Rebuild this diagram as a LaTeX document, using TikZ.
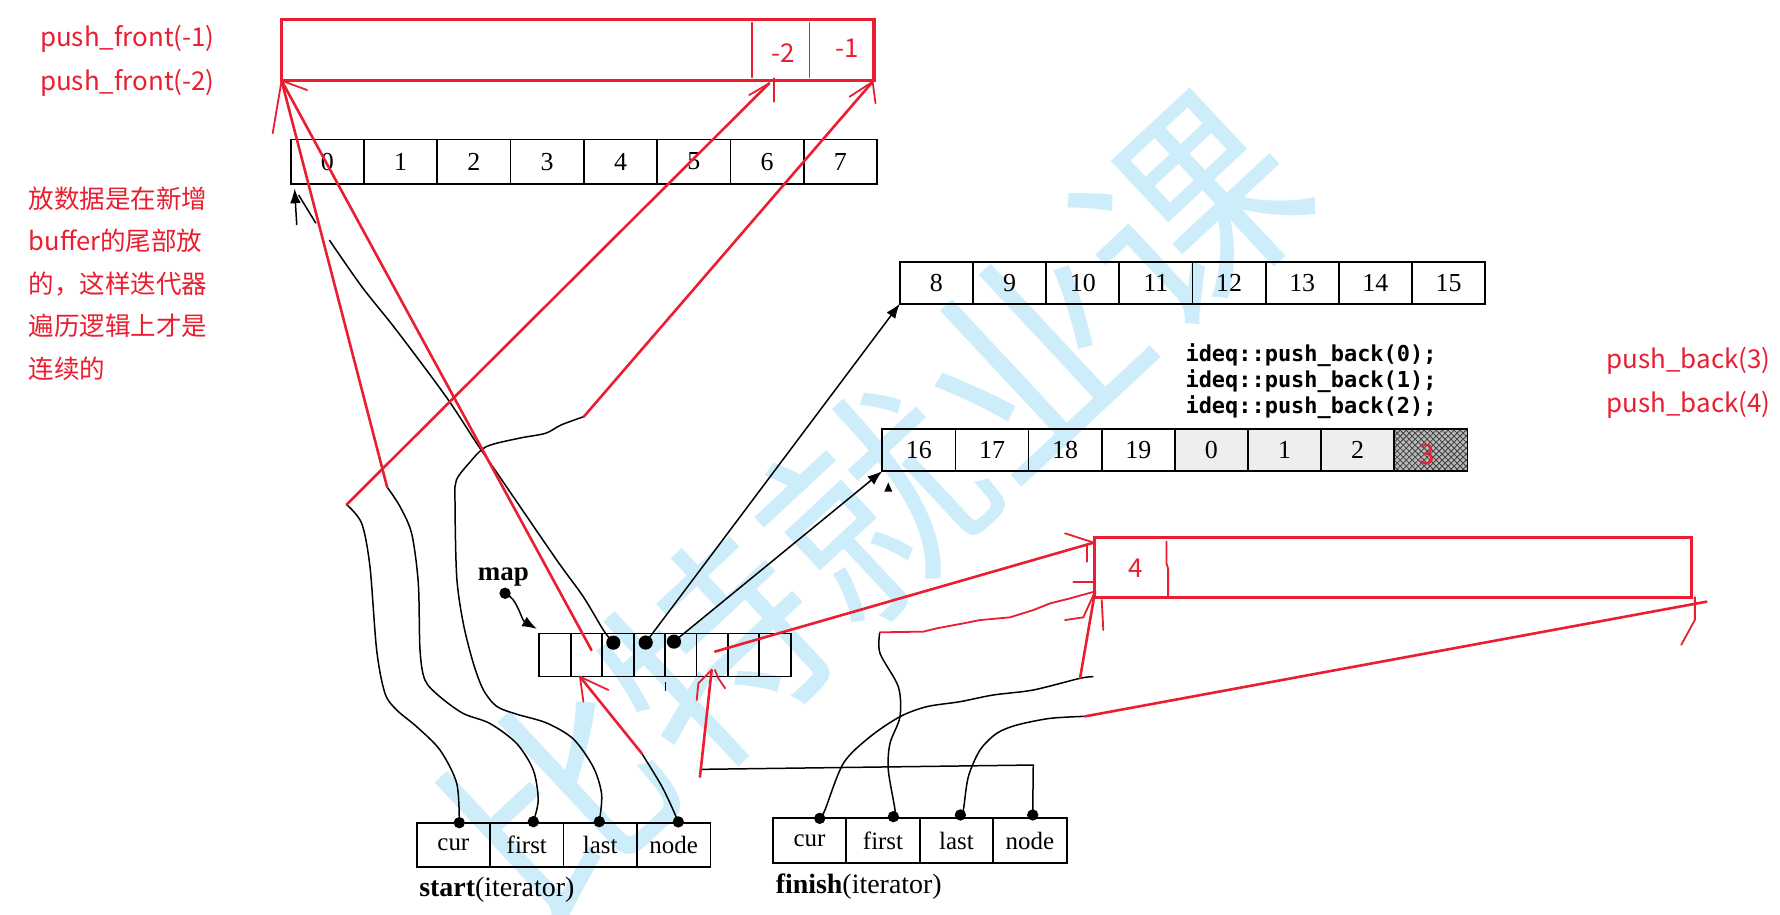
\documentclass[tikz,border=0pt]{standalone}
\usepackage{fontspec}
\setmainfont{Liberation Serif}
\newfontfamily\cjk{Noto Sans CJK SC}
\newfontfamily\monof{DejaVu Sans Mono}
\usetikzlibrary{arrows.meta,patterns}
\definecolor{annot}{RGB}{234,30,48}
\definecolor{wmark}{RGB}{206,237,251}
\begin{document}
\begin{tikzpicture}[x=0.02cm,y=-0.02cm,
  redl/.style={draw=annot,line width=1.3pt,line cap=round},
  redthin/.style={draw=annot,line width=0.9pt,line cap=round},
  redbox/.style={draw=annot,line width=1.7pt,inner sep=0pt,outer sep=0pt},
  redtxt/.style={text=annot,inner sep=0pt,font=\cjk\fontsize{13}{13}\selectfont},
  blk/.style={draw=black,line width=0.75pt},
  arr/.style={blk,-{Latex[length=2.6mm,width=1.9mm]}},
  cellbase/.style={draw=black,line width=0.9pt,inner sep=0pt,outer sep=0pt,font=\fontsize{13}{13}\selectfont},
  cellA/.style={cellbase,minimum width=1.2916cm,minimum height=0.78cm},
  cellB/.style={cellbase,minimum width=1.2888cm,minimum height=0.74cm},
  cellC/.style={cellbase,minimum width=1.2886cm,minimum height=0.74cm},
  cellM/.style={cellbase,minimum width=0.5536cm,minimum height=0.76cm},
  cellS/.style={cellbase,minimum width=1.294cm,minimum height=0.764cm,font=\fontsize{12.5}{12.5}\selectfont},
  cellF/.style={cellbase,minimum width=1.294cm,minimum height=0.792cm,font=\fontsize{12.5}{12.5}\selectfont},
  sdot/.style={circle,fill=black,inner sep=0pt,minimum size=0.2cm},
  mdot/.style={circle,fill=black,inner sep=0pt,minimum size=0.25cm},
  codetxt/.style={anchor=west,inner sep=0pt,font=\monof\bfseries\fontsize{11}{11}\selectfont}
]
\useasboundingbox (0,0) rectangle (1568,806);
\fill[white] (0,0) rectangle (1568,806);

% watermark
\node[text=wmark,rotate=43,inner sep=0pt,font=\cjk\fontsize{108}{108}\selectfont] (wm) at (770,445) {比特就业课};

% buffer 0-7
\foreach \n in {0,...,7} \node[cellA] (a\n) at ({256+64.58*(\n+0.5)},142.3) {\n};
% buffer 8-15
\foreach \n/\l in {0/8,1/9,2/10,3/11,4/12,5/13,6/14,7/15}
  \node[cellB] (b\n) at ({792.7+64.44*(\n+0.5)},249) {\l};
% buffer 16-...
\foreach \n/\l in {0/16,1/17,2/18,3/19}
  \node[cellC] (c\n) at ({777.2+64.43*(\n+0.5)},396.5) {\l};
\foreach \n/\l in {4/0,5/1,6/2}
  \node[cellC,fill=gray!13] (c\n) at ({777.2+64.43*(\n+0.5)},396.5) {\l};
\node[cellC,preaction={fill=gray!55},pattern=crosshatch,pattern color=black!75] (c7) at ({777.2+64.43*7.5},396.5) {};
\node[redtxt,font=\cjk\fontsize{14}{14}\selectfont] (c7t) at (1257,400) {3};
\fill (779,433) -- (782.5,425) -- (786,433) -- cycle;

% map
\foreach \n in {0,...,7} \node[cellM] (m\n) at ({475.1+27.68*(\n+0.5)},577) {};
\node[mdot] (md2) at (540.3,566.1) {};
\node[mdot] (md3) at (568.8,566) {};
\node[mdot] (md4) at (593.7,565.2) {};
\draw[blk] (586.4,601) -- (586.4,609);
\node[inner sep=0pt,font=\bfseries\fontsize{13.5}{13.5}\selectfont] (maplbl) at (443.4,508.5) {map};
\node[sdot] (mapdot) at (444.9,522.6) {};
\coordinate (maptip) at (473,554);
\draw[arr] (mapdot.center) .. controls (456,527) and (459,546) .. (maptip);

% start iterator
\foreach \n/\l in {0/cur,1/first,2/last,3/node}
  \node[cellS] (s\n) at ({367+64.7*(\n+0.5)},744.4) {\l};
\node[sdot] (sd0) at (404.6,724.7) {};
\node[sdot] (sd1) at (469.8,723.8) {};
\node[sdot] (sd2) at (527.9,723.8) {};
\node[sdot] (sd3) at (597.5,724) {};
\node[anchor=west,inner sep=0pt,font=\fontsize{14}{14}\selectfont] (slbl) at (369,784) {\textbf{start}(iterator)};

% finish iterator
\foreach \n/\l in {0/cur,1/first,2/last,3/node}
  \node[cellF] (f\n) at ({680.8+64.7*(\n+0.5)},740.7) {\l};
\node[sdot] (fd0) at (722.1,720.9) {};
\node[sdot] (fd1) at (787,719.4) {};
\node[sdot] (fd2) at (846,717.9) {};
\node[sdot] (fd3) at (909.7,717.9) {};
\node[anchor=west,inner sep=0pt,font=\fontsize{14}{14}\selectfont] (flbl) at (683,781) {\textbf{finish}(iterator)};

% code text
\node[codetxt] (i0) at (1044,313) {ideq::push\_back(0);};
\node[codetxt] (i1) at (1044,336) {ideq::push\_back(1);};
\node[codetxt] (i2) at (1044,359) {ideq::push\_back(2);};

% map pointers
\coordinate (agap1) at (290.1,211.4);
\coordinate (agap2) at (278.3,196.7);
\coordinate (aend) at (263.1,171.8);
\coordinate (a0tip) at (259.5,166);
\coordinate (astub) at (261.4,198.2);
\draw[blk] plot[smooth] coordinates {(md2.center) (531.5,555) (513.8,525.6) (490.4,493.3) (440.1,419.9) (419.9,390.5) (392.9,349.4) (349.1,290.7) (318.7,252.5) (agap1)};
\draw[blk] (agap2) -- (aend);
\draw[arr] (astub) -- (a0tip);
\draw[arr] (md3.center) -- (b0.south west);
\draw[arr] (md4.center) -- (c0.south west);

% junctions
\coordinate (jcur) at (305.3,444.5);
\coordinate (jfirst) at (341,429);
\coordinate (jlast) at (514.3,367);
\coordinate (jsnode) at (565.3,663.6);
\coordinate (jfcur) at (951.4,597.5);
\coordinate (fcurend) at (963.1,596.1);
\coordinate (jffirst) at (775,557);
\coordinate (jflast) at (956,631);
\coordinate (fnodecorner) at (910.2,673.9);
\coordinate (fnodeend) at (617.9,677.7);

% start curves
\draw[blk] plot[smooth] coordinates {(sd0.center) (402.3,690) (387.6,660.7) (367,640.1) (349.4,625.4) (339.1,610.7) (331.8,572.6) (325.9,499.2) (318.6,461) (jcur)};
\draw[blk] plot[smooth] coordinates {(sd1.center) (474.1,704.8) (469.8,678.4) (455.1,654.9) (431.6,637.3) (408.1,628.5) (387.6,613.8) (374.4,599.2) (370,572.8) (368.5,514) (362.7,470.3) (352.4,446.3) (jfirst)};
\draw[blk] plot[smooth] coordinates {(sd2.center) (530,699.8) (522.7,675.9) (505.1,651) (481.6,636.9) (455.1,629.1) (437.5,622.2) (425.8,607.7) (417,584.4) (408.1,549.1) (402.3,507.9) (400.8,440.5) (402,423) (413.1,408.1) (428.3,393.5) (457,386.1) (480.5,381.7) (494.1,374.4) (jlast)};
\draw[blk] plot[smooth] coordinates {(sd3.center) (590.3,707.6) (581.5,690) (jsnode)};

% finish curves
\draw[blk] plot[smooth] coordinates {(fd0.center) (726.7,713.5) (742.9,672.4) (766.4,649) (792.8,631.3) (816.3,622.5) (845.7,618.1) (875,612.2) (910.2,607.8) (jfcur) (fcurend)};
\draw[blk] plot[smooth] coordinates {(fd1.center) (788.4,713.5) (782.5,678.3) (784,654.8) (792.8,631.3) (791.3,604.9) (775.2,575.5) (jffirst)};
\draw[blk] plot[smooth] coordinates {(fd2.center) (848.6,713.5) (853,684.2) (863.3,660.7) (878,646) (895.6,638.7) (925,632.8) (jflast)};
\draw[blk] (fd3.center) -- (fnodecorner) -- (fnodeend);

% red buffer at front
\node[redbox,minimum width=10.44cm,minimum height=1.08cm] (rb1) at (509,44) {};
\draw[redthin] (662.5,20) -- (662.5,68);
\draw[redthin] (713,20) -- (713,68);
\node[redtxt] (tm2t) at (690.3,47) {-2};
\node[redtxt] (tm1t) at (745.9,42.6) {-1};
\coordinate (tm2) at (677.6,73.4);
\coordinate (tm1) at (768.7,72);

% red buffer at back
\node[redbox,minimum width=10.522cm,minimum height=1.064cm] (rb2) at (1226.95,499.9) {};
\draw[redthin] (1027.5,477) -- (1027.5,496) -- (1029,501) -- (1029,525);
\node[redtxt] (four) at (1000.8,500.6) {4};
\coordinate (rb2tl) at (963.5,478);
\coordinate (rb2bl) at (964.6,521);
\coordinate (rb2br) at (1503.2,530);

% red connectors
\coordinate (m1in) at (521,572.6);
\coordinate (m1bot) at (510.9,596.1);
\coordinate (m5in) at (629.8,574);
\coordinate (m5bot) at (626.9,590.2);
\coordinate (jfnode) at (616.6,684.2);
\draw[redl] (rb1.south west) -- (jfirst);
\draw[redl] (m1in) -- (rb1.south west);
\draw[redthin] (rb1.south west) -- (240.2,117.4);
\draw[redthin] (rb1.south west) -- (270.5,79.3);
\draw[redl] (jcur) -- (tm2);
\draw[redthin] (tm2) -- (660,83.7);
\draw[redthin] (681.7,69) -- (681.7,89.6);
\draw[redl] (jlast) -- (tm1);
\draw[redthin] (tm1) -- (748.4,85.2);
\draw[redthin] (tm1) -- (771.2,91);
\draw[redl] (jsnode) -- (m1bot);
\draw[redthin] (m1bot) -- (513.9,618.1);
\draw[redthin] (m1bot) -- (535.9,607.8);
\draw[redl] (m5in) -- (rb2tl);
\draw[redthin] (938.2,469.8) -- (rb2tl);
\draw[redthin] (957.3,480.1) -- (957.3,494.8);
\draw[redl] (jfcur) -- (rb2bl);
\draw[redthin] (jffirst) -- (813.4,556.4) -- (825.1,553.5) -- (848.6,549.1) -- (863.3,546.2) -- (889.7,543.8) -- (910.2,537.4) -- (925,531.5) -- (942.6,527.1) -- (rb2bl);
\draw[redthin] (945.5,512.4) -- (963.5,512.4);
\draw[redthin] (938.2,546.2) -- (954.3,543.8) -- (rb2bl);
\draw[redthin] (970.5,528.5) -- (971.9,555);
\draw[redl] (jflast) -- (rb2br);
\draw[redthin] (1493,526) -- (1493,546) -- (1481,568);
\draw[redl] (jfnode) -- (m5bot);
\draw[redthin] (613.7,616.6) -- (615.2,601.9) -- (m5bot);
\draw[redthin] (629.8,590.2) -- (632.8,597.5) -- (638.7,606.3);

% red notes
\node[redtxt,anchor=west] (pf1) at (35,34) {push\_front(-1)};
\node[redtxt,anchor=west] (pf2) at (35,73) {push\_front(-2)};
\node[redtxt,anchor=west] (pb3) at (1415,318) {push\_back(3)};
\node[redtxt,anchor=west] (pb4) at (1415,357) {push\_back(4)};
\node[anchor=north west,align=left,inner sep=0pt,text=annot,font=\cjk\fontsize{12.8}{21.3}\selectfont] (note) at (25,164) {放数据是在新增\\buffer的尾部放\\的，这样迭代器\\遍历逻辑上才是\\连续的};
\end{tikzpicture}
\end{document}
